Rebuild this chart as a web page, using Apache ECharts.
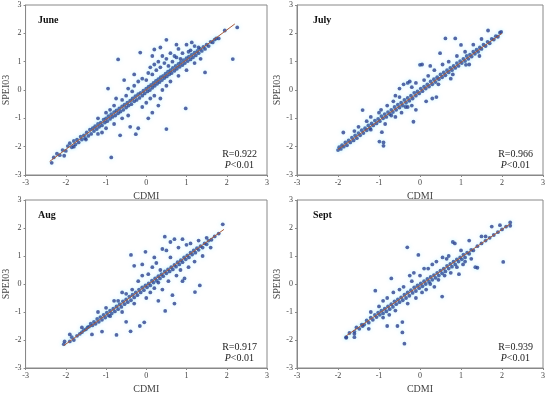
<!DOCTYPE html>
<html><head><meta charset="utf-8">
<script src="https://cdn.jsdelivr.net/npm/echarts@6/dist/echarts.min.js"></script>
<style>html,body{margin:0;padding:0;background:#fff}#c{width:550px;height:395px}</style>
</head><body><div id="c"></div>
<script>
var axisTicks = [-3, -2, -1, 0, 1, 2, 3];
var panelNames = ['June', 'July', 'Aug', 'Sept'];
var rValues = ['R=0.922', 'R=0.966', 'R=0.917', 'R=0.939'];

var juneBand = [[-2.3,-2.38],[-2.22,-2.25],[-2.15,-2.3],[-2.08,-2.12],[-2.0,-2.15],[-1.95,-1.98],[-1.9,-1.88],[-1.85,-2.02],[-1.8,-1.8],[-1.76,-1.92],[-1.72,-1.75],[-1.68,-1.85],[-1.63,-1.65],[-1.6,-1.75],[-1.55,-1.6],[-1.52,-1.7],[-1.48,-1.5],[-1.44,-1.62],[-1.4,-1.4],[-1.37,-1.55],[-1.33,-1.35],[-1.3,-1.45],[-1.27,-1.28],[-1.23,-1.38],[-1.2,-1.2],[-1.17,-1.3],[-1.13,-1.15],[-1.1,-1.25],[-1.06,-1.05],[-1.03,-1.15],[-1.0,-1.0],[-0.97,-1.1],[-0.94,-0.92],[-0.9,-1.02],[-0.87,-0.85],[-0.84,-0.95],[-0.8,-0.78],[-0.77,-0.9],[-0.74,-0.72],[-0.7,-0.82],[-0.67,-0.65],[-0.64,-0.76],[-0.6,-0.58],[-0.57,-0.7],[-0.54,-0.52],[-0.5,-0.62],[-0.47,-0.45],[-0.44,-0.55],[-0.4,-0.38],[-0.37,-0.5],[-0.34,-0.3],[-0.3,-0.4],[-0.27,-0.22],[-0.24,-0.35],[-0.2,-0.15],[-0.17,-0.28],[-0.14,-0.1],[-0.1,-0.2],[-0.07,-0.02],[-0.04,-0.12],[0,0.05],[0.03,-0.05],[0.06,0.12],[0.09,0.0],[0.12,0.18],[0.15,0.08],[0.18,0.25],[0.21,0.15],[0.24,0.32],[0.27,0.22],[0.3,0.38],[0.33,0.28],[0.36,0.45],[0.39,0.35],[0.42,0.5],[0.45,0.42],[0.48,0.58],[0.51,0.48],[0.54,0.65],[0.57,0.55],[0.6,0.7],[0.63,0.6],[0.66,0.78],[0.7,0.68],[0.73,0.85],[0.76,0.75],[0.8,0.92],[0.83,0.82],[0.86,0.98],[0.9,0.88],[0.93,1.05],[0.96,0.95],[1.0,1.12],[1.03,1.02],[1.06,1.18],[1.1,1.08],[1.13,1.25],[1.16,1.15],[1.2,1.32],[1.23,1.22],[1.27,1.38],[1.3,1.3],[1.34,1.45],[1.38,1.38],[1.42,1.52],[1.46,1.45],[1.5,1.6],[1.55,1.55],[1.6,1.7],[1.65,1.68],[1.7,1.78],[1.74,1.82]];
var juneScatter = [[-1.2,-1.0],[-1.0,-0.8],[-0.9,-0.7],[-0.8,-0.55],[-0.75,-0.3],[-0.6,-0.35],[-0.5,-0.2],[-0.45,0.05],[-0.35,-0.05],[-0.3,0.15],[-0.2,0.3],[-0.1,0.4],[0,0.35],[0.05,0.6],[0.1,0.8],[0.15,0.55],[0.2,0.9],[0.25,0.7],[0.3,1.0],[0.35,0.8],[0.4,1.2],[0.45,0.95],[0.5,1.1],[0.55,0.85],[0.6,1.3],[0.65,1.0],[0.7,1.2],[0.75,1.15],[0.8,1.45],[0.85,1.1],[0.9,1.3],[1.0,1.6],[1.05,1.35],[1.1,1.4],[1.2,1.55],[1.3,1.5],[0.2,1.43],[-0.15,1.32],[0.5,1.77],[-0.7,1.08],[1.13,1.68],[-0.95,0.05],[-0.55,0.35],[-0.3,0.55],[0.15,1.2],[0.35,1.5],[0.75,1.6],[-1.8,-2.0],[-1.5,-1.75],[-1.2,-1.55],[-1.0,-1.35],[-0.8,-1.2],[-0.65,-1.6],[-0.6,-1.0],[-0.4,-1.3],[-0.26,-1.56],[-0.2,-1.35],[-0.1,-0.6],[0,-0.45],[0.1,-0.3],[0.15,-0.8],[0.2,-0.2],[0.3,-0.55],[0.4,0.0],[0.5,-1.38],[0.5,0.15],[0.6,0.3],[0.8,0.5],[0.98,-0.65],[1.0,0.7],[1.2,0.95],[1.46,0.62],[1.35,1.1],[-0.87,-2.38],[-2.35,-2.57],[-2.04,-2.32],[2.15,1.09],[2.26,2.21],[1.95,2.1],[1.8,1.82],[-0.45,-0.9],[-1.1,-1.5],[0.05,-1.0],[0.35,-0.3]];

var julyBand = [[-2.0,-2.12],[-1.97,-2.02],[-1.93,-2.08],[-1.9,-1.95],[-1.86,-2.0],[-1.82,-1.85],[-1.78,-1.95],[-1.74,-1.78],[-1.7,-1.85],[-1.66,-1.68],[-1.62,-1.78],[-1.58,-1.6],[-1.54,-1.7],[-1.5,-1.52],[-1.46,-1.6],[-1.42,-1.42],[-1.38,-1.52],[-1.34,-1.35],[-1.3,-1.42],[-1.26,-1.25],[-1.22,-1.35],[-1.18,-1.18],[-1.14,-1.25],[-1.1,-1.08],[-1.06,-1.18],[-1.02,-1.02],[-0.98,-1.1],[-0.94,-0.92],[-0.9,-1.0],[-0.86,-0.85],[-0.82,-0.95],[-0.78,-0.78],[-0.74,-0.85],[-0.7,-0.7],[-0.66,-0.78],[-0.62,-0.6],[-0.58,-0.7],[-0.54,-0.52],[-0.5,-0.62],[-0.46,-0.45],[-0.42,-0.55],[-0.38,-0.35],[-0.34,-0.45],[-0.3,-0.28],[-0.26,-0.38],[-0.22,-0.2],[-0.18,-0.3],[-0.14,-0.1],[-0.1,-0.2],[-0.06,-0.05],[-0.02,-0.12],[0.02,0.05],[0.06,-0.04],[0.1,0.12],[0.14,0.05],[0.18,0.2],[0.22,0.12],[0.26,0.3],[0.3,0.2],[0.34,0.38],[0.38,0.28],[0.42,0.45],[0.46,0.38],[0.5,0.55],[0.54,0.45],[0.58,0.62],[0.62,0.52],[0.66,0.7],[0.7,0.62],[0.74,0.78],[0.78,0.7],[0.82,0.85],[0.86,0.78],[0.9,0.95],[0.94,0.85],[0.98,1.02],[1.02,0.95],[1.06,1.1],[1.1,1.02],[1.14,1.2],[1.18,1.1],[1.22,1.25],[1.26,1.18],[1.3,1.35],[1.34,1.28],[1.38,1.42],[1.42,1.35],[1.46,1.5],[1.5,1.45],[1.55,1.6],[1.6,1.55],[1.65,1.7],[1.7,1.65],[1.75,1.8],[1.8,1.78],[1.85,1.9],[1.9,1.88],[1.95,2.02],[1.98,2.05]];
var julyScatter = [[-1.87,-1.5],[-1.6,-1.45],[-1.5,-1.3],[-1.4,-0.71],[-1.3,-1.1],[-1.2,-0.95],[-1.0,-0.8],[-0.99,-1.82],[-0.89,-1.85],[-0.89,-1.97],[-0.93,-1.49],[-0.85,-1.2],[-0.7,-0.9],[-0.8,-0.55],[-0.65,-0.4],[-0.6,-0.95],[-0.5,-0.25],[-0.5,0.05],[-0.45,-0.8],[-0.4,0.2],[-0.35,-0.6],[-0.3,0.25],[-0.25,0.3],[-0.2,0.1],[-0.2,-0.55],[-0.16,-1.12],[-0.1,-0.7],[-0.1,0.25],[0,0.89],[0.05,0.9],[0.1,0.35],[0.15,-0.4],[0.2,0.5],[0.3,-0.3],[0.35,0.7],[0.4,-0.25],[0.45,0.2],[0.49,1.3],[0.55,0.9],[0.62,1.82],[0.7,1.0],[0.75,0.4],[0.86,1.82],[0.9,1.2],[1.0,1.59],[1.1,1.35],[1.12,0.89],[1.2,0.9],[1.3,1.6],[1.5,1.8],[1.66,2.1],[1.45,1.2],[0.8,0.55],[0.25,0.85],[-0.6,-0.2],[-0.95,-0.7],[-1.2,-1.4],[-0.3,-0.6]];

var augBand = [[-2.05,-2.15],[-2.03,-2.05],[-1.9,-2.05],[-1.85,-1.9],[-1.8,-2.0],[-1.72,-1.85],[-1.65,-1.78],[-1.6,-1.72],[-1.55,-1.65],[-1.5,-1.62],[-1.46,-1.55],[-1.42,-1.52],[-1.38,-1.42],[-1.34,-1.48],[-1.3,-1.35],[-1.26,-1.42],[-1.22,-1.25],[-1.18,-1.35],[-1.14,-1.18],[-1.1,-1.28],[-1.06,-1.1],[-1.02,-1.2],[-0.98,-1.02],[-0.94,-1.12],[-0.9,-0.95],[-0.86,-1.05],[-0.82,-0.88],[-0.78,-0.98],[-0.74,-0.8],[-0.7,-0.9],[-0.66,-0.72],[-0.62,-0.82],[-0.58,-0.62],[-0.54,-0.72],[-0.5,-0.55],[-0.46,-0.65],[-0.42,-0.45],[-0.38,-0.58],[-0.34,-0.38],[-0.3,-0.48],[-0.26,-0.3],[-0.22,-0.4],[-0.18,-0.2],[-0.14,-0.3],[-0.1,-0.12],[-0.06,-0.22],[-0.02,-0.05],[0.02,-0.12],[0.06,0.02],[0.1,-0.05],[0.14,0.12],[0.18,0.05],[0.22,0.2],[0.26,0.12],[0.3,0.28],[0.34,0.2],[0.38,0.35],[0.42,0.28],[0.46,0.45],[0.5,0.38],[0.54,0.52],[0.58,0.45],[0.62,0.6],[0.66,0.52],[0.7,0.68],[0.74,0.62],[0.78,0.78],[0.82,0.7],[0.86,0.85],[0.9,0.78],[0.94,0.95],[0.98,0.88],[1.02,1.02],[1.06,0.95],[1.1,1.12],[1.14,1.05],[1.18,1.2],[1.22,1.12],[1.26,1.28],[1.3,1.22],[1.35,1.35],[1.4,1.3],[1.45,1.45],[1.5,1.42],[1.55,1.55],[1.62,1.58],[1.7,1.7],[1.8,1.8],[1.9,2.13]];
var augScatter = [[-1.9,-1.8],[-1.6,-1.55],[-1.35,-1.8],[-1.1,-1.7],[-1.2,-1.0],[-1.0,-0.85],[-0.9,-1.15],[-0.74,-1.82],[-0.7,-0.6],[-0.6,-1.0],[-0.5,-1.35],[-0.5,-0.35],[-0.39,-1.69],[-0.38,1.04],[-0.35,-0.2],[-0.3,0.65],[-0.3,-0.7],[-0.2,0.1],[-0.16,-1.5],[-0.1,0.3],[-0.05,-1.37],[-0.02,1.15],[0,-0.5],[0.05,0.35],[0.1,-0.3],[0.15,0.6],[0.2,-0.15],[0.25,0.75],[0.3,-0.6],[0.35,0.5],[0.4,-0.2],[0.46,1.69],[0.47,-0.96],[0.5,1.2],[0.55,0.1],[0.6,1.5],[0.65,-0.4],[0.7,1.6],[0.7,-0.7],[0.75,0.3],[0.8,1.3],[0.85,0.5],[0.9,1.6],[0.95,0.2],[1.0,1.4],[1.05,0.6],[1.1,1.45],[1.21,-0.29],[1.33,-0.05],[1.2,0.8],[1.3,1.55],[1.4,1.0],[1.5,1.65],[0.4,1.25],[0.2,0.95],[-0.1,0.7],[0.6,0.95],[0.9,0.1],[0.3,0.05],[-0.6,-0.3],[-0.8,-0.6],[1.6,1.3]];

var septBand = [[-1.8,-1.9],[-1.72,-1.75],[-1.6,-1.7],[-1.55,-1.55],[-1.48,-1.6],[-1.42,-1.45],[-1.36,-1.45],[-1.3,-1.3],[-1.25,-1.38],[-1.2,-1.2],[-1.15,-1.28],[-1.1,-1.1],[-1.06,-1.18],[-1.02,-1.02],[-0.98,-1.1],[-0.94,-0.95],[-0.9,-1.05],[-0.86,-0.88],[-0.82,-0.98],[-0.78,-0.8],[-0.74,-0.9],[-0.7,-0.72],[-0.66,-0.82],[-0.62,-0.62],[-0.58,-0.72],[-0.54,-0.55],[-0.5,-0.65],[-0.46,-0.48],[-0.42,-0.58],[-0.38,-0.38],[-0.34,-0.5],[-0.3,-0.3],[-0.26,-0.42],[-0.22,-0.22],[-0.18,-0.32],[-0.14,-0.12],[-0.1,-0.25],[-0.06,-0.05],[-0.02,-0.15],[0.02,0.02],[0.06,-0.08],[0.1,0.1],[0.14,0.0],[0.18,0.18],[0.22,0.08],[0.26,0.25],[0.3,0.15],[0.34,0.32],[0.38,0.22],[0.42,0.4],[0.46,0.3],[0.5,0.48],[0.54,0.38],[0.58,0.55],[0.62,0.45],[0.66,0.65],[0.7,0.55],[0.74,0.72],[0.78,0.62],[0.82,0.8],[0.86,0.7],[0.9,0.88],[0.94,0.8],[0.98,0.95],[1.02,0.88],[1.06,1.05],[1.1,0.95],[1.15,1.12],[1.2,1.08],[1.25,1.22],[1.3,1.2],[1.4,1.35],[1.5,1.45],[1.6,1.55],[1.7,1.65],[1.8,1.75],[1.9,1.85],[2.0,1.95],[2.1,2.05],[2.2,2.2],[2.2,2.08]];
var septScatter = [[-1.8,-1.92],[-1.6,-1.9],[-1.6,-1.78],[-1.4,-1.5],[-1.25,-1.6],[-1.09,-0.24],[-1.0,-0.8],[-0.9,-1.2],[-0.8,-1.5],[-0.8,-0.5],[-0.7,0.2],[-0.65,-0.3],[-0.6,-0.95],[-0.55,-1.5],[-0.5,-0.2],[-0.43,-1.36],[-0.43,-1.73],[-0.38,-2.13],[-0.4,-0.1],[-0.31,1.31],[-0.3,-0.7],[-0.2,0.1],[-0.15,0.4],[-0.1,-0.5],[-0.04,1.04],[0,0.3],[0.05,-0.3],[0.1,0.55],[0.15,-0.2],[0.2,0.55],[0.25,0.0],[0.3,0.7],[0.35,-0.1],[0.4,0.8],[0.45,0.15],[0.54,-0.45],[0.55,0.95],[0.6,0.3],[0.7,1.0],[0.75,0.4],[0.8,1.5],[0.85,1.45],[0.9,0.6],[0.95,0.35],[1.0,1.2],[1.1,0.8],[1.2,1.55],[1.25,0.9],[1.35,0.6],[1.4,0.58],[1.5,1.7],[1.6,1.7],[1.75,2.05],[1.95,2.1],[2.03,0.79],[-1.2,-1.0],[-0.9,-0.6],[-0.25,0.3],[0.65,0.9],[1.05,0.7],[-0.75,-1.1]];

var juneFit = [[-2.4,-2.52],[2.2,2.33]];
var julyFit = [[-2.0,-2.1],[2.0,2.0]];
var augFit = [[-2.05,-2.2],[1.93,1.95]];
var septFit = [[-1.8,-1.85],[2.2,2.15]];

var points = [juneBand.concat(juneScatter), julyBand.concat(julyScatter), augBand.concat(augScatter), septBand.concat(septScatter)];
var fits = [juneFit, julyFit, augFit, septFit];

var grids = [
  {left: 22, top: 5, width: 245, height: 170},
  {left: 297, top: 5, width: 246, height: 170},
  {left: 22, top: 200, width: 245, height: 168},
  {left: 297, top: 200, width: 246, height: 168}
];

var serif = 'Liberation Serif';
var gridOpt = [], xAxes = [], yAxes = [], series = [], graphics = [];
for (var i = 0; i < 4; i++) {
  var g = grids[i];
  gridOpt.push({left: g.left, top: g.top, width: g.width, height: g.height, show: true, borderColor: '#888', borderWidth: 1, containLabel: false});
  var common = {
    type: 'value', gridIndex: i, min: axisTicks[0], max: axisTicks[axisTicks.length - 1], interval: 1,
    splitLine: {show: false},
    axisLine: {show: true, onZero: false, lineStyle: {color: '#888'}},
    axisTick: {show: true, length: 2, lineStyle: {color: '#888'}},
    axisLabel: {fontFamily: serif, fontSize: 8, color: '#444', margin: 4},
    nameTextStyle: {fontFamily: serif, fontSize: 10, color: '#444'},
    nameLocation: 'middle'
  };
  xAxes.push(Object.assign({}, common, {name: 'CDMI', nameGap: 16}));
  yAxes.push(Object.assign({}, common, {name: 'SPEI03', nameGap: 11}));
  series.push({
    type: 'scatter', xAxisIndex: i, yAxisIndex: i, data: points[i], symbolSize: 3.8,
    itemStyle: {color: '#2e4290', shadowBlur: 4, shadowColor: 'rgba(80,220,255,0.45)'},
    silent: true, z: 2
  });
  series.push({
    type: 'line', xAxisIndex: i, yAxisIndex: i, data: fits[i], symbol: 'none',
    lineStyle: {color: '#a85a3c', width: 1}, silent: true, z: 3
  });
  graphics.push({type: 'text', left: g.left + 16, top: g.top + 10,
    style: {text: panelNames[i], font: 'bold 10px "Liberation Serif"', fill: '#111'}});
  graphics.push({type: 'text', right: 550 - (g.left + g.width) + 10, top: g.top + g.height - 26,
    style: {text: rValues[i], font: '10px "Liberation Serif"', fill: '#222', textAlign: 'right'}});
  graphics.push({type: 'text', right: 550 - (g.left + g.width) + 13, top: g.top + g.height - 15,
    style: {text: '{i|P}<0.01', font: '10px "Liberation Serif"', fill: '#222',
      rich: {i: {fontStyle: 'italic', fontFamily: serif, fontSize: 10, fill: '#222'}}}});
}

var chart = echarts.init(document.getElementById('c'), null, {renderer: 'canvas'});
chart.setOption({
  animation: false,
  grid: gridOpt, xAxis: xAxes, yAxis: yAxes, series: series, graphic: graphics
});
</script></body></html>
